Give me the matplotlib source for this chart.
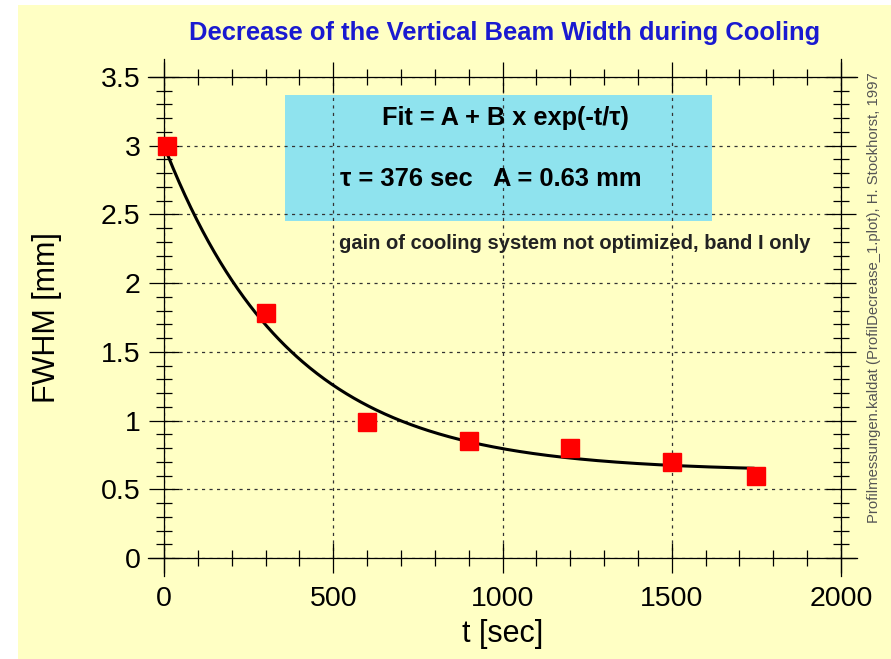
import matplotlib
matplotlib.use("Agg")
import matplotlib.pyplot as plt
import numpy as np
from matplotlib.patches import Rectangle
from matplotlib.ticker import MultipleLocator

plt.rcParams["font.family"] = ["Liberation Sans", "DejaVu Sans"]

# measured beam width during cooling
t_sec = [10, 300, 600, 900, 1200, 1500, 1750]
fwhm_mm = [3.0, 1.78, 0.99, 0.85, 0.80, 0.70, 0.60]

# exponential fit A + B exp(-t/tau)
fit_a = 0.63
fit_b = 2.37
fit_tau = 376.0
fit_t_range = (10, 1740)

title = "Decrease of the Vertical Beam Width during Cooling"
fit_line = "Fit = A + B x exp(-t/\u03c4)"
param_line = "\u03c4 = 376 sec   A = 0.63 mm"
note_line = "gain of cooling system not optimized, band I only"
credit = "Profilmessungen.kaldat (ProfilDecrease_1.plot), H. Stockhorst, 1997"

bg_yellow = "#FFFFC4"
box_cyan = "#8FE3EE"

fig = plt.figure(figsize=(8.91, 6.59), dpi=100, facecolor="white")
fig.patches.append(Rectangle((18 / 891, 0), 1 - 18 / 891, 1 - 5 / 659,
                             transform=fig.transFigure, facecolor=bg_yellow,
                             edgecolor="none", zorder=-10))

ax = fig.add_axes([164 / 891, 1 - 558 / 659, 677 / 891, 481 / 659])
ax.set_facecolor("none")
ax.set_xlim(0, 2000)
ax.set_ylim(0, 3.5)

for side in ["left", "right", "top", "bottom"]:
    ax.spines[side].set_visible(False)

# frame lines running a little past the corners
ext_x = 16 / 677
ext_y = 18 / 481
frame_kw = dict(transform=ax.transAxes, color="black", lw=0.9, clip_on=False, zorder=3)
ax.plot([0, 0], [-ext_y, 1 + ext_y], **frame_kw)
ax.plot([1, 1], [-ext_y, 1 + ext_y], **frame_kw)
ax.plot([-ext_x, 1 + ext_x], [0, 0], **frame_kw)
ax.plot([-ext_x, 1 + ext_x], [1, 1], **frame_kw)

ax.xaxis.set_major_locator(MultipleLocator(500))
ax.xaxis.set_minor_locator(MultipleLocator(100))
ax.yaxis.set_major_locator(MultipleLocator(0.5))
ax.yaxis.set_minor_locator(MultipleLocator(0.1))
ax.yaxis.set_major_formatter(plt.FuncFormatter(lambda v, p: f"{v:g}"))

ax.tick_params(which="both", direction="inout", top=True, right=True,
               color="black", width=0.9)
ax.tick_params(which="major", length=22, labelsize=20.5, pad=6)
ax.tick_params(which="minor", length=12)
ax.tick_params(axis="x", which="major", pad=9)

ax.grid(True, which="major", linestyle=(0, (2.5, 3.5)), color="#333333", lw=0.9, zorder=2)
ax.set_axisbelow(False)

ax.add_patch(Rectangle((358, 2.45), 1262, 0.92, facecolor=box_cyan,
                       edgecolor="none", zorder=1))

t_fit = np.linspace(fit_t_range[0], fit_t_range[1], 400)
ax.plot(t_fit, fit_a + fit_b * np.exp(-t_fit / fit_tau), color="black", lw=2.2, zorder=4)
ax.plot(t_sec, fwhm_mm, linestyle="none", marker="s", markersize=13,
        color="#FF0000", markeredgecolor="#FF0000", zorder=5, clip_on=False)

ax.text(1010, 3.2, fit_line, ha="center", va="center", fontsize=18.3,
        fontweight="bold", zorder=6)
ax.text(521, 2.76, param_line, ha="left", va="center", fontsize=18.4,
        fontweight="bold", zorder=6)
ax.text(516, 2.29, note_line, ha="left", va="center", fontsize=14.5,
        fontweight="bold", color="#222222", zorder=6)

ax.set_xlabel("t [sec]", fontsize=22)
ax.xaxis.set_label_coords(0.5, -0.127)
ax.set_ylabel("FWHM [mm]", fontsize=22)
ax.yaxis.set_label_coords(-0.151, 0.5)

fig.text(505 / 891, 1 - 33 / 659, title, ha="center", va="center",
         fontsize=18.4, fontweight="bold", color="#1A1AD0")
fig.text(874 / 891, 1 - 298 / 659, credit, ha="center", va="center",
         rotation=90, fontsize=10.75, color="#555555")

fig.savefig("out.png", dpi=100, facecolor="white")
